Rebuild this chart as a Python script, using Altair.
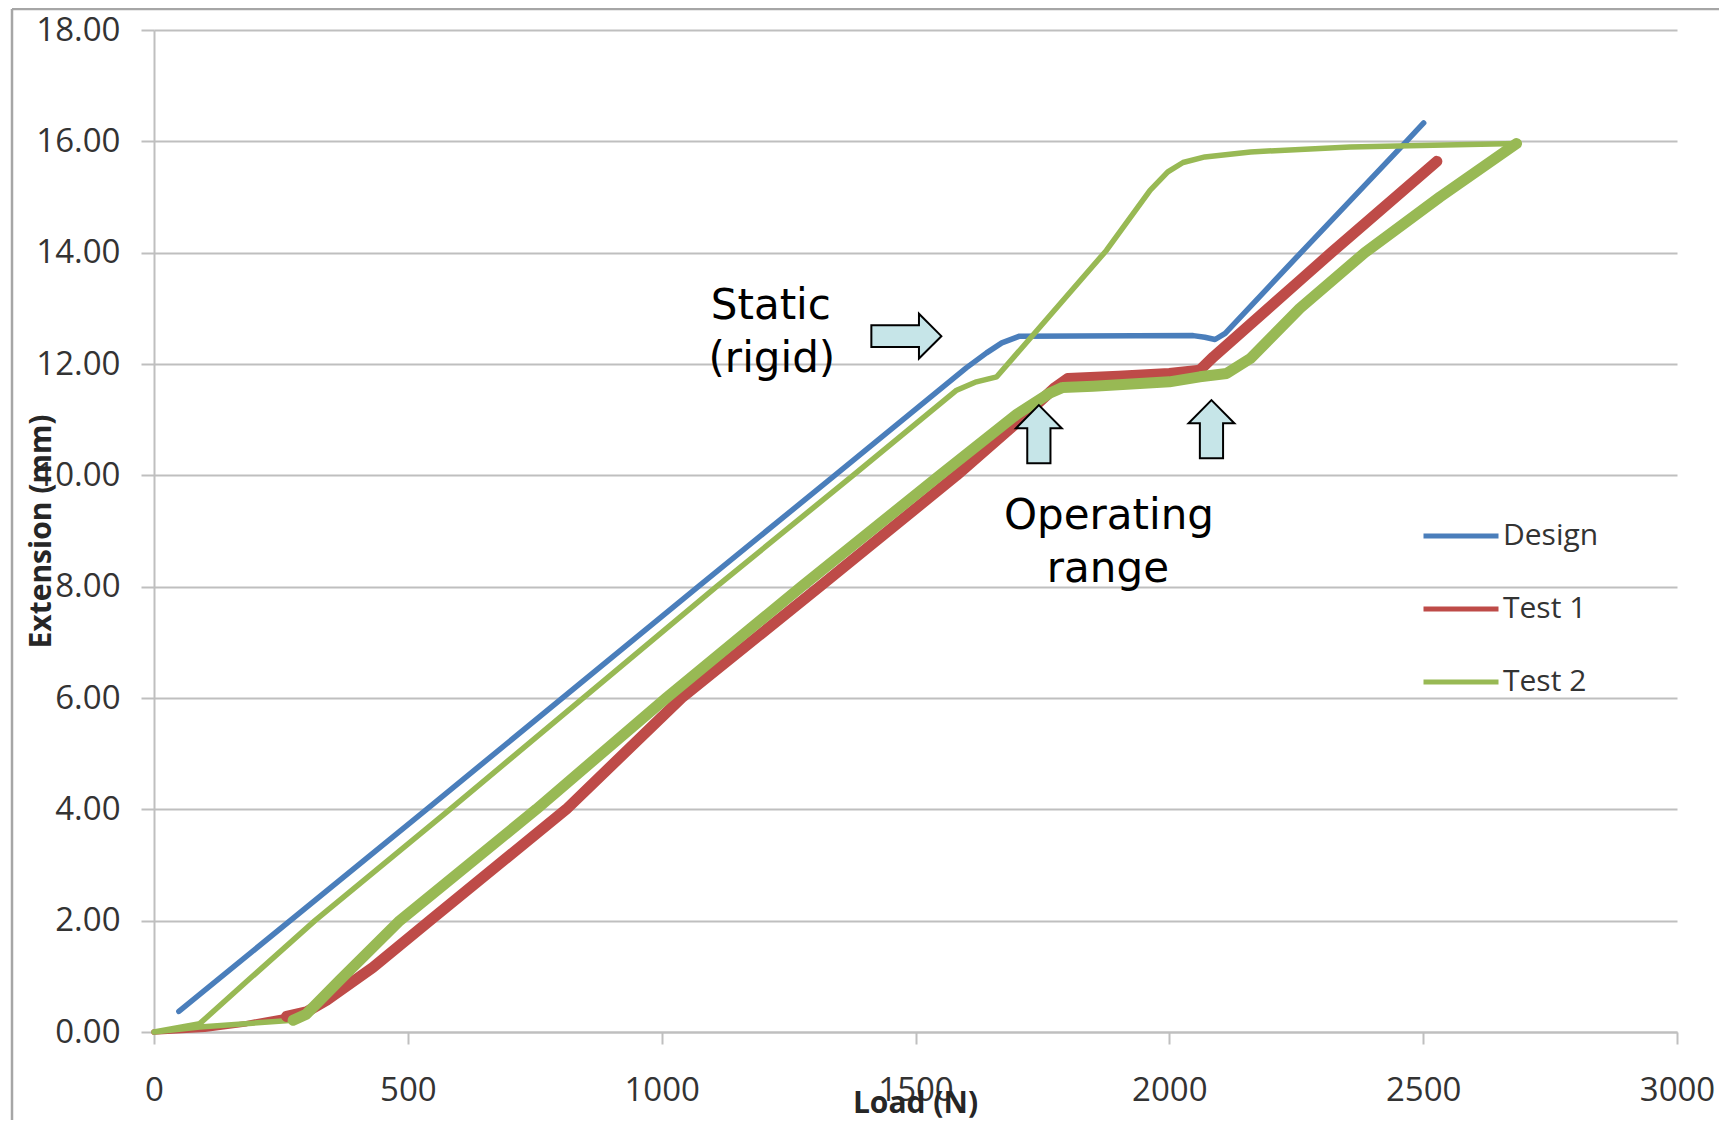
import altair as alt
import pandas as pd

# ---------------- data (Load in N, Extension in mm) ----------------
design_load = [49, 537, 1072, 1341, 1600, 1640, 1670, 1705, 2047, 2070, 2090, 2110, 2257, 2467, 2501]
design_ext = [0.37, 4.0, 8.0, 10.0, 11.93, 12.2, 12.38, 12.5, 12.51, 12.48, 12.44, 12.55, 13.98, 16.0, 16.33]

test1_load = [0, 100, 182, 261, 300, 340, 431, 543, 812, 1039, 1311, 1581, 1700, 1775, 1800,
              1900, 2000, 2060, 2087, 2257, 2319, 2527]
test1_ext = [0, 0.05, 0.15, 0.28, 0.36, 0.57, 1.16, 2.0, 4.0, 6.0, 8.0, 10.0, 10.95, 11.58, 11.74,
             11.78, 11.83, 11.89, 12.13, 13.5, 14.0, 15.64]

# Test 2: loading branch followed by unloading branch
test2_load_up = [0, 90, 274, 300, 366, 431, 484, 753, 1009, 1275, 1548, 1700, 1765, 1790, 1850,
                 2000, 2060, 2113, 2160, 2257, 2385, 2533, 2684]
test2_ext_up = [0, 0.09, 0.21, 0.32, 0.93, 1.52, 2.0, 4.0, 6.0, 8.0, 10.0, 11.1, 11.48, 11.58, 11.6,
                11.68, 11.77, 11.83, 12.1, 13.0, 14.0, 15.0, 15.96]
test2_load_down = [2684, 2356, 2160, 2070, 2027, 1997, 1962, 1876, 1660, 1620, 1581, 1377, 1108,
                   583, 317, 189, 90, 0]
test2_ext_down = [15.96, 15.9, 15.81, 15.72, 15.62, 15.45, 15.12, 14.04, 11.77, 11.68, 11.53, 10.0,
                  8.0, 4.0, 2.0, 0.96, 0.15, 0]

series_names = ["Design", "Test 1", "Test 2"]
series_colors = ["#4A7EBB", "#BE4B48", "#98B954"]

x_ticks = [0, 500, 1000, 1500, 2000, 2500, 3000]
y_ticks = [0, 2, 4, 6, 8, 10, 12, 14, 16, 18]

# annotations
note_text = ["Static", "(rigid)", "Operating", "range"]
note_load = [1215, 1217, 1881, 1879]
note_ext = [12.80, 11.86, 9.03, 8.08]

arrow_kind = ["right", "up", "up"]
arrow_load = [1482, 1743, 2083]
arrow_ext = [12.50, 10.74, 10.83]

# ---------------- tables ----------------
rows = []


def add(series, phase, loads, exts):
    for l, e in zip(loads, exts):
        rows.append({"series": series, "phase": phase, "load": l, "ext": e, "idx": len(rows)})


add("Design", "load", design_load, design_ext)
add("Test 1", "load", test1_load, test1_ext)
add("Test 2", "load", test2_load_up, test2_ext_up)
add("Test 2", "unload", test2_load_down, test2_ext_down)
df = pd.DataFrame(rows)

notes = pd.DataFrame({"text": note_text, "load": note_load, "ext": note_ext})
arrows = pd.DataFrame({"kind": arrow_kind, "load": arrow_load, "ext": arrow_ext})

GRID = "#BFBFBF"
LABEL = "#333333"

x_enc = alt.X(
    "load:Q",
    scale=alt.Scale(domain=[0, 3000], nice=False, zero=False),
    axis=alt.Axis(
        values=x_ticks, format="d", grid=False,
        domainColor=GRID, domainWidth=2, tickColor=GRID, tickWidth=2, tickSize=12,
        labelFont="Open Sans", labelFontSize=33, labelColor=LABEL, labelPadding=56,
        labelBaseline="alphabetic", labelFlush=False, labelOverlap=False,
        title="Load (N)", titleFont="Open Sans", titleFontSize=30, titleFontWeight="bold",
        titleColor="#262626", titleX=761, titleY=80, titleAlign="center",
        titleBaseline="alphabetic",
    ),
)
y_enc = alt.Y(
    "ext:Q",
    scale=alt.Scale(domain=[0, 18], nice=False, zero=False),
    axis=alt.Axis(
        values=y_ticks, format=".2f", grid=True, gridColor=GRID, gridWidth=2,
        domainColor=GRID, domainWidth=2, tickColor=GRID, tickWidth=2, tickSize=13,
        labelFont="Open Sans", labelFontSize=33, labelColor=LABEL, labelPadding=21,
        labelBaseline="middle", labelFlush=False, labelOverlap=False,
        title="Extension (mm)", titleFont="Open Sans", titleFontSize=30, titleFontWeight="bold",
        titleColor="#262626", titleX=-113, titleY=501, titleAngle=270, titleAlign="center",
        titleBaseline="middle",
    ),
)
color_enc = alt.Color(
    "series:N",
    scale=alt.Scale(domain=series_names, range=series_colors),
    legend=alt.Legend(
        orient="none", legendX=1267, legendY=466, title=None,
        symbolType="stroke", symbolSize=5625, symbolStrokeWidth=5,
        labelFont="Open Sans", labelFontSize=30, labelColor=LABEL, labelOffset=2,
        rowPadding=18, padding=0,
    ),
)

base = alt.Chart(df)

thin = base.mark_line(strokeWidth=5.5, strokeCap="round", strokeJoin="round").encode(
    x=x_enc, y=y_enc, color=color_enc, order="idx:Q"
)
thick = base.transform_filter(
    "datum.series != 'Design' && datum.phase == 'load' && datum.load >= 255"
).mark_line(strokeWidth=11, strokeCap="round", strokeJoin="round").encode(
    x=x_enc, y=y_enc, color=color_enc, order="idx:Q"
)

right_path = "M -1 -0.31 L 0.36 -0.31 L 0.36 -0.64 L 1 0 L 0.36 0.64 L 0.36 0.31 L -1 0.31 Z"
up_path = "M 0 -1 L 0.79 -0.2 L 0.4 -0.2 L 0.4 1 L -0.4 1 L -0.4 -0.2 L -0.79 -0.2 Z"

arrow_right = alt.Chart(arrows).transform_filter("datum.kind == 'right'").mark_point(
    shape=right_path, size=4900, filled=True, fill="#C6E5E8", stroke="black",
    strokeWidth=2, opacity=1,
).encode(x="load:Q", y="ext:Q")
arrow_up = alt.Chart(arrows).transform_filter("datum.kind == 'up'").mark_point(
    shape=up_path, size=3364, filled=True, fill="#C6E5E8", stroke="black",
    strokeWidth=2, opacity=1,
).encode(x="load:Q", y="ext:Q")

labels = alt.Chart(notes).mark_text(
    font="DejaVu Sans", fontSize=42, align="center", baseline="alphabetic", color="black"
).encode(x="load:Q", y="ext:Q", text="text:N")

frame_df = pd.DataFrame({"a": [0]})
frame_left = alt.Chart(frame_df).mark_rule(color="#A6A6A6", strokeWidth=2.5).encode(
    x=alt.value(-142), y=alt.value(-21), y2=alt.value(1092)
)
frame_top = alt.Chart(frame_df).mark_rule(color="#A6A6A6", strokeWidth=2.5).encode(
    x=alt.value(-142), x2=alt.value(1570), y=alt.value(-21)
)

chart = alt.layer(
    frame_left, frame_top, thin, thick, arrow_right, arrow_up, labels
).properties(
    width=1523, height=1002,
    padding={"left": 146, "top": 22, "right": 42, "bottom": 88},
    autosize=alt.AutoSizeParams(type="none"),
    background="white",
).configure_view(strokeWidth=0)

chart.save("out.html", embed_options={"renderer": "svg", "actions": False})
